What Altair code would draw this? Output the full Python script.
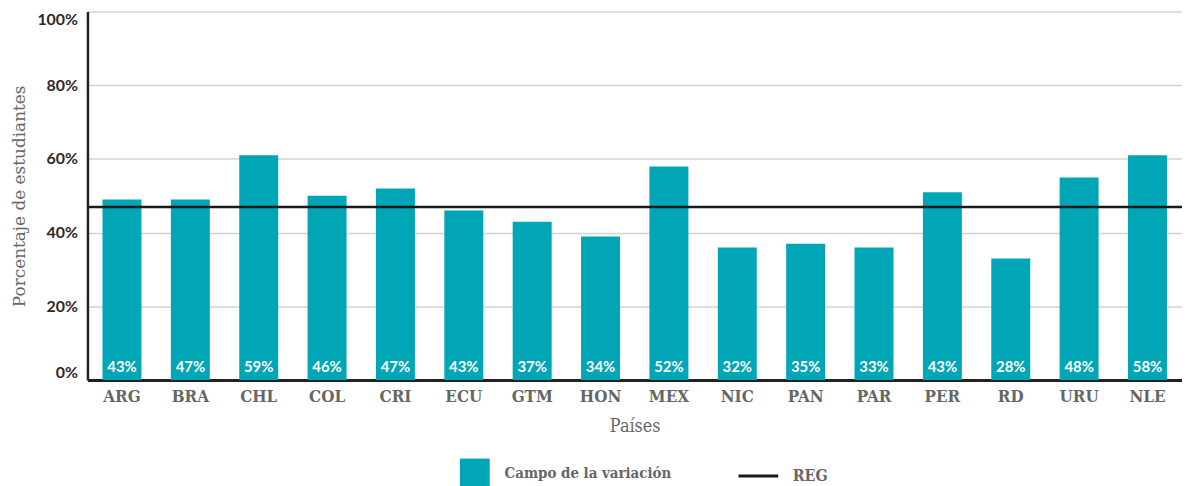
import altair as alt
import pandas as pd

paises = ["ARG", "BRA", "CHL", "COL", "CRI", "ECU", "GTM", "HON", "MEX", "NIC", "PAN", "PAR", "PER", "RD", "URU", "NLE"]
campo = [49, 49, 61, 50, 52, 46, 43, 39, 58, 36, 37, 36, 51, 33, 55, 61]
etiquetas = [43, 47, 59, 46, 47, 43, 37, 34, 52, 32, 35, 33, 43, 28, 48, 58]
reg = [47]
y_ticks = [0, 20, 40, 60, 80, 100]

TEAL = "#00A6B6"
SLAB = "DejaVu Serif Condensed, DejaVu Serif"
SERIF = "DejaVu Serif"
SANS = "Lato"

df = pd.DataFrame({
    "pais": paises,
    "campo": campo,
    "etiqueta": [f"{v}%" for v in etiquetas],
    "serie": ["Campo de la variación"] * len(paises),
    "base": [0] * len(paises),
})
df_reg = pd.DataFrame({"reg": reg, "serie": ["REG"]})

x = alt.X(
    "pais:N", sort=paises, title="Países",
    scale=alt.Scale(paddingInner=0.43, paddingOuter=0.22),
    axis=alt.Axis(
        labelAngle=0, labelFont=SLAB, labelFontSize=17, labelFontWeight="bold",
        labelColor="#666666", labelPadding=9, ticks=False,
        titleFont=SLAB, titleFontSize=18, titleFontWeight="normal", titleColor="#666666",
        titlePadding=13, domainColor="#222222", domainWidth=3, grid=False,
    ),
)
y_axis = alt.Axis(
    values=y_ticks, labelExpr="datum.value + '%'", labelFont=SANS, labelFontSize=16,
    labelFontWeight="bold", labelColor="#2a2a2a", labelPadding=10, ticks=False,
    labelFlush=True,
    titleFont=SERIF, titleFontSize=17, titleFontWeight="normal", titleColor="#666666",
    titlePadding=8, domainColor="#222222", domainWidth=2.5,
    grid=True, gridColor="#d3d3d3", gridWidth=1.5,
)

bars = alt.Chart(df).mark_bar(color=TEAL).encode(
    x=x,
    y=alt.Y("campo:Q", scale=alt.Scale(domain=[0, 100]), title="Porcentaje de estudiantes", axis=y_axis),
    fill=alt.Fill(
        "serie:N", scale=alt.Scale(range=[TEAL]),
        legend=alt.Legend(
            title=None, orient="none", legendX=375, legendY=450, symbolType="square",
            symbolSize=900, symbolStrokeWidth=0, labelFont=SLAB, labelFontSize=15,
            labelFontWeight="bold", labelColor="#666666", labelOffset=15, labelLimit=0,
        ),
    ),
)

labels = alt.Chart(df).mark_text(
    font=SANS, fontSize=15, fontWeight="bold", color="white", baseline="middle", dy=-13
).encode(
    x=alt.X("pais:N", sort=paises),
    y=alt.Y("base:Q"),
    text="etiqueta:N",
)

rule = alt.Chart(df_reg).mark_rule(strokeWidth=2.5).encode(
    y=alt.Y("reg:Q"),
    stroke=alt.Stroke(
        "serie:N", scale=alt.Scale(range=["#1a1a1a"]),
        legend=alt.Legend(
            title=None, orient="none", legendX=654, legendY=446, symbolType="stroke",
            symbolSize=1600, symbolStrokeWidth=3, labelFont=SLAB, labelFontSize=16,
            labelFontWeight="bold", labelColor="#666666", labelOffset=13, labelLimit=0,
        ),
    ),
)

chart = alt.layer(bars, rule, labels).properties(
    width=1102, height=371,
    autosize=alt.AutoSizeParams(type="none"),
    padding={"left": 80, "top": 2, "right": 0, "bottom": 110},
).configure_view(stroke=None)

chart.save("out.html", embed_options={"renderer": "svg", "actions": False})
